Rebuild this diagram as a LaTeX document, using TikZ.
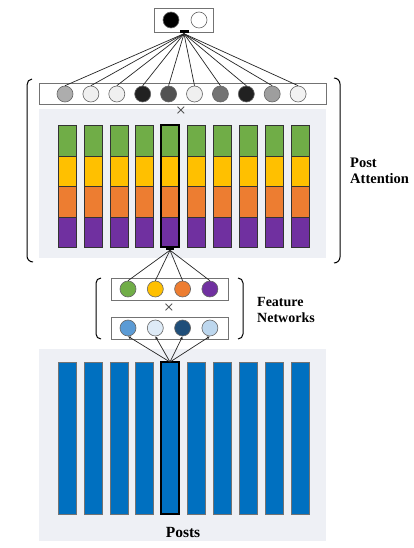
\documentclass[tikz,border=0pt]{standalone}
\usepackage{fontspec}
\setmainfont{Liberation Serif}
\usetikzlibrary{arrows.meta}
\definecolor{panel}{HTML}{EEF0F5}
\definecolor{cgreen}{HTML}{70AD47}
\definecolor{cyellow}{HTML}{FFC000}
\definecolor{corange}{HTML}{ED7D31}
\definecolor{cpurple}{HTML}{7030A0}
\definecolor{cblue}{HTML}{0070C0}
\definecolor{b1}{HTML}{5B9BD5}
\definecolor{b2}{HTML}{DEEBF7}
\definecolor{b3}{HTML}{1F4E79}
\definecolor{b4}{HTML}{BDD7EE}
\tikzset{
  rowbox/.style={draw=black!55, line width=0.8pt, fill=white},
  dot/.style={circle, draw=black!60, line width=0.6pt, minimum size=16pt, inner sep=0pt},
  seg/.style={draw=black!80, line width=0.6pt},
  hl/.style={draw=black, line width=1.8pt},
  conn/.style={black!85, line width=0.7pt},
  brk/.style={black, line width=1pt},
  lbl/.style={font=\bfseries\fontsize{14.5}{16}\selectfont, align=left, anchor=west, inner sep=0pt},
  timesmk/.style={font=\fontsize{18}{18}\selectfont, text=black!75, inner sep=0pt}
}
\begin{document}
\begin{tikzpicture}[x=1pt,y=-1pt]
\useasboundingbox (0,0) rectangle (413,548);
\fill[white] (0,0) rectangle (413,548);
% top box
\draw[rowbox] (154,8) rectangle (213,32);
\node[dot, fill=black] (o1) at (171,20) {};
\node[dot, fill=white] (o2) at (199,20) {};
\node[fill=black, minimum width=9pt, minimum height=3pt, inner sep=0pt] (tc) at (184,32) {};
% attention row
\draw[rowbox] (39,83) rectangle (326,104);
\foreach \i/\c in {0/black!32,1/black!6,2/black!6,3/black!87,4/black!68,5/black!6,6/black!55,7/black!87,8/black!38,9/black!5}{
  \node[dot, fill=\c] (a\i) at ({65+25.9*\i},94) {};
  \draw[conn] (tc.south) -- (a\i.north);
}
% attention panel
\fill[panel] (39,109) rectangle (326,258);
\node[timesmk] (x1) at (181,112) {×};
\foreach \i in {0,...,9}{
  \pgfmathsetmacro\cx{67+25.9*\i}
  \draw[seg, fill=cgreen] (\cx-9,125) rectangle (\cx+9,156);
  \draw[seg, fill=cyellow] (\cx-9,156) rectangle (\cx+9,186);
  \draw[seg, fill=corange] (\cx-9,186) rectangle (\cx+9,217);
  \draw[seg, fill=cpurple] (\cx-9,217) rectangle (\cx+9,247);
}
\draw[hl] (161,125) rectangle (179,247);
\node[fill=black, minimum width=8pt, minimum height=4pt, inner sep=0pt] (bc) at (170,248) {};
% post attention brackets
\draw[brk] (32,79) to[out=180,in=90] (27,85) -- (27,256) to[out=-90,in=180] (33,262);
\draw[brk] (334,78) to[out=0,in=90] (340,84) -- (340,257) to[out=-90,in=0] (334,263);
\node[lbl] (pa) at (350,171) {Post\\Attention};
% feature networks
\draw[rowbox] (111,278) rectangle (228,300);
\draw[rowbox] (111,317) rectangle (228,339);
\foreach \i/\c in {0/cgreen,1/cyellow,2/corange,3/cpurple}{
  \node[dot, fill=\c] (f\i) at ({128+27.3*\i},289) {};
  \draw[conn] (bc.south) -- (f\i.north);
}
\foreach \i/\c in {0/b1,1/b2,2/b3,3/b4}{
  \node[dot, fill=\c] (g\i) at ({128+27.3*\i},328) {};
}
\node[timesmk] (x2) at (169,309) {×};
\draw[brk] (101,278) to[out=180,in=90] (96,283) -- (96,334) to[out=-90,in=180] (101,339);
\draw[brk] (238,278) to[out=0,in=90] (243,283) -- (243,334) to[out=-90,in=0] (238,339);
\node[lbl, font=\bfseries\fontsize{14}{16}\selectfont] (fn) at (257,310) {Feature\\Networks};
% posts panel
\fill[panel] (39,349) rectangle (326,541);
\foreach \i in {0,...,9}{
  \pgfmathsetmacro\cx{67+25.9*\i}
  \draw[seg, draw=black!55, fill=cblue] (\cx-9,362) rectangle (\cx+9,514);
}
\draw[hl] (161,362) rectangle (179,514);
\coordinate (pc) at (170,362);
\foreach \i in {0,...,3}{
  \draw[conn, -{Latex[length=3pt,width=3pt]}] (pc) -- (g\i.south);
}
\node[font=\bfseries\fontsize{15.5}{16}\selectfont, inner sep=0pt] (posts) at (183,532) {Posts};
\end{tikzpicture}
\end{document}
